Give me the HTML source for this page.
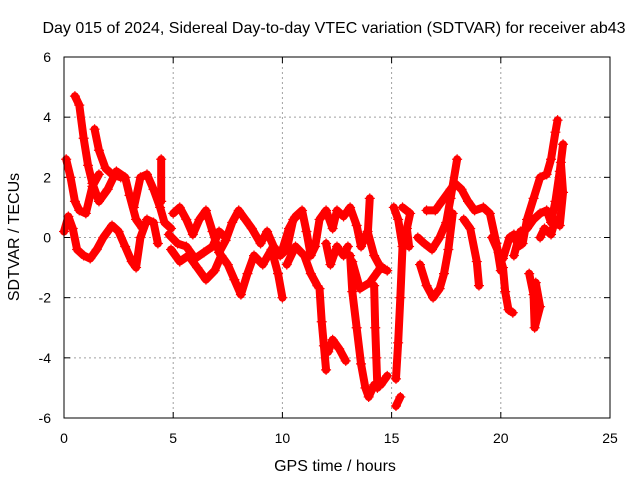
<!DOCTYPE html>
<html><head><meta charset="utf-8"><style>
body{margin:0;background:#fff}
svg{display:block;font-family:"Liberation Sans",sans-serif;font-size:14px}
.big{font-size:16px}
</style></head><body>
<svg id="chart" width="640" height="480" viewBox="0 0 640 480">
<rect width="640" height="480" fill="#fff"/>
<text class="big" x="334" y="33" text-anchor="middle">Day 015 of 2024, Sidereal Day-to-day VTEC variation (SDTVAR) for receiver ab43</text>
<text class="big" transform="translate(19,237) rotate(-90)" text-anchor="middle">SDTVAR / TECUs</text>
<text class="big" x="335" y="471" text-anchor="middle">GPS time / hours</text>
<g id="grid"></g><g id="axes"></g><g id="marks"></g>
<rect x="64" y="57" width="546" height="361" fill="none" stroke="#000" stroke-width="1"/>
</svg>
<script>
const xTicks=[0,5,10,15,20,25];
const yTicks=[-6,-4,-2,0,2,4,6];
const tracks=[
[[0.5,4.7],[0.7,4.4],[0.9,3.3],[1.1,2.4],[1.3,1.8],[1.6,1.2],[2.0,1.6],[2.4,2.2],[2.8,2.0],[3.0,1.4],[3.3,0.6],[3.6,0.3]],
[[0.1,2.6],[0.3,2.0],[0.5,1.2],[0.7,0.9],[1.0,0.8],[1.3,1.7],[1.6,2.1]],
[[1.4,3.6],[1.6,2.9],[1.9,2.3],[2.2,2.1],[2.6,2.0]],
[[0,0.2],[0.2,0.7],[0.4,0.3],[0.6,-0.4],[0.9,-0.6],[1.2,-0.7],[1.5,-0.4],[1.8,0.0],[2.2,0.4],[2.5,0.2],[2.8,-0.3],[3.1,-0.8],[3.3,-1.0],[3.5,0.0],[3.8,0.6],[4.1,0.5],[4.3,-0.2]],
[[3.2,1.0],[3.5,2.0],[3.8,2.1],[4.1,1.6],[4.4,1.0],[4.6,0.5],[4.9,0.3]],
[[4.45,2.6],[4.45,1.2]],
[[5.0,0.8],[5.3,1.0],[5.6,0.6],[5.9,0.1],[6.2,0.6],[6.5,0.9],[6.8,0.2],[7.1,-0.5],[7.4,-0.1],[7.7,0.5],[8.0,0.9],[8.3,0.6],[8.6,0.3],[9.0,-0.2],[9.3,0.2],[9.6,-0.3],[9.9,-0.6],[10.2,-0.4],[10.5,0.6],[10.8,0.8]],
[[4.9,-0.4],[5.3,-0.8],[5.7,-0.6],[6.1,-1.0],[6.5,-1.4],[6.9,-1.1],[7.2,-0.6],[7.5,-0.9],[7.8,-1.4],[8.1,-1.9],[8.4,-1.2],[8.7,-0.6],[9.1,-0.9],[9.5,-0.4],[9.8,-1.2],[10.0,-2.0]],
[[4.8,0.1],[5.2,-0.2],[5.6,-0.3],[6.0,-0.7],[6.4,-0.5],[6.8,-0.3],[7.1,0.2],[7.4,0.0]],
[[10.0,-0.4],[10.3,0.3],[10.6,0.7],[10.9,0.9],[11.1,0.2],[11.3,-0.6],[11.5,-0.3],[11.7,0.6],[12.0,0.9],[12.3,0.3],[12.5,0.9],[12.8,0.7],[13.1,1.0],[13.4,0.4],[13.6,-0.3],[13.9,0.2],[14.2,-0.6],[14.5,-1.0],[14.8,-1.1]],
[[10.2,-0.9],[10.6,-0.3],[11.0,-0.6],[11.3,-1.2],[11.6,-1.6]],
[[11.7,-1.7],[11.8,-2.8],[11.9,-3.6],[12.0,-4.4]],
[[12.1,-3.8],[12.3,-3.4],[12.6,-3.7],[12.9,-4.1]],
[[12.0,-0.2],[12.2,-0.9],[12.5,-0.3],[12.8,-0.6],[13.0,-0.3]],
[[13.1,-0.6],[13.2,-1.8],[13.4,-3.0],[13.6,-4.2],[13.8,-5.0],[13.95,-5.3],[14.2,-4.9],[14.5,-4.9],[14.8,-4.6]],
[[13.2,-0.8],[13.55,-1.7],[14.0,-1.5],[14.4,-1.1],[14.6,-1.0]],
[[14.0,1.3],[13.9,0.0]],
[[14.2,-1.6],[14.25,-3.0],[14.3,-4.0],[14.35,-5.0]],
[[15.1,1.0],[15.3,0.6],[15.5,-0.3],[15.4,-2.0],[15.3,-3.5],[15.2,-4.7]],
[[15.2,-5.6],[15.4,-5.3]],
[[15.5,1.0],[15.85,0.8],[15.7,0.3],[15.8,-0.3]],
[[16.2,0.0],[16.5,-0.2],[16.85,-0.4],[17.2,0.0],[17.5,0.5],[17.7,1.3],[18.0,2.6]],
[[16.3,-0.9],[16.6,-1.6],[16.9,-2.0],[17.2,-1.7],[17.4,-1.2],[17.6,-0.4],[17.8,0.8]],
[[16.6,0.9],[17.0,0.9],[17.3,1.2],[17.7,1.6],[17.9,1.8],[18.2,1.6],[18.5,1.2],[18.8,0.9],[19.2,1.0],[19.5,0.8],[19.8,-0.2],[20.0,-1.1]],
[[18.3,0.6],[18.6,0.3],[18.9,-0.8],[19.0,-1.6]],
[[19.6,0.0],[19.9,-0.5],[20.1,-1.0],[20.2,-1.8],[20.35,-2.4],[20.55,-2.5]],
[[20.1,-0.7],[20.4,0.0],[20.6,0.1],[20.8,-0.3],[21.0,-0.2],[21.2,0.6],[21.5,1.3],[21.8,2.0],[22.1,2.1],[22.3,2.6],[22.5,3.5],[22.6,3.9]],
[[20.6,-0.6],[20.9,0.2],[21.2,0.3],[21.5,0.6],[21.8,0.8],[22.1,0.9],[22.3,0.5],[22.5,1.2],[22.7,2.2],[22.85,3.1]],
[[21.3,-1.2],[21.5,-1.9],[21.55,-3.0],[21.8,-2.3],[21.6,-1.5]],
[[21.8,0.0],[22.0,0.3],[22.3,0.1],[22.5,0.6],[22.7,0.4],[22.85,1.5],[22.75,2.5]]
];
const NS='http://www.w3.org/2000/svg';
const X0=64,X1=610,Y0=418,Y1=57;
function xs(t){return X0+(t-0)/(25-0)*(X1-X0);}
function ys(v){return Y0-(v+6)/12*(Y0-Y1);}
function mk(tag,attrs,parent){const e=document.createElementNS(NS,tag);for(const k in attrs)e.setAttribute(k,attrs[k]);parent.appendChild(e);return e;}
const grid=document.getElementById('grid'),axes=document.getElementById('axes'),marks=document.getElementById('marks');
xTicks.forEach(t=>{
  const x=xs(t);
  if(t>0&&t<25){const g=mk('line',{x1:x,x2:x,y1:Y1,y2:Y0,stroke:'#a0a0a0','stroke-dasharray':'2,3'},grid);
  
  }
  mk('line',{x1:x,x2:x,y1:Y0,y2:Y0-6,stroke:'#000'},axes);
  mk('line',{x1:x,x2:x,y1:Y1,y2:Y1+6,stroke:'#000'},axes);
  const l=mk('text',{x:x,y:443,'text-anchor':'middle'},axes);l.textContent=t;
  
  
});
yTicks.forEach(v=>{
  const y=ys(v);
  if(v>-6&&v<6){const g=mk('line',{x1:X0,x2:X1,y1:y,y2:y,stroke:'#a0a0a0','stroke-dasharray':'2,3'},grid);
  
  }
  mk('line',{x1:X0,x2:X0+6,y1:y,y2:y,stroke:'#000'},axes);
  mk('line',{x1:X1,x2:X1-6,y1:y,y2:y,stroke:'#000'},axes);
  const l=mk('text',{x:51,y:y+5,'text-anchor':'end'},axes);l.textContent=v;
  
  
});
tracks.forEach(tr=>{
  const pts=tr.map(p=>xs(p[0])+','+ys(p[1])).join(' ');
  const pl=mk('polyline',{points:pts,fill:'none',stroke:'#ff0000','stroke-width':8,'stroke-linejoin':'round','stroke-linecap':'round'},marks);
  
  
  tr.forEach(p=>{
    const x=xs(p[0]),y=ys(p[1]);
    const m=mk('path',{d:`M${x-5},${y}H${x+5}M${x},${y-5}V${y+5}`,stroke:'#ff0000','stroke-width':1.2},marks);
    
    
  });
});
</script>
</body></html>
